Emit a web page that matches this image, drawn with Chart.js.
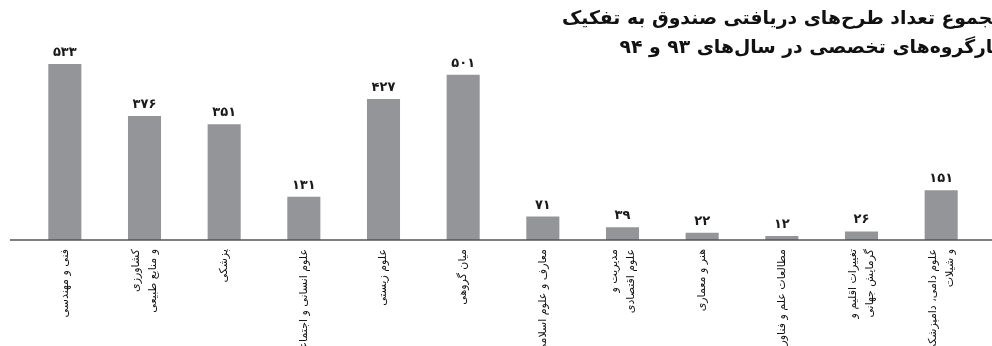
<!DOCTYPE html>
<html><head><meta charset="utf-8">
<script src="https://cdn.jsdelivr.net/npm/chart.js@4"></script>
<style>html,body{margin:0;padding:0;background:#fff;overflow:hidden}
#wrap{width:992px;height:346px;position:relative}</style>
</head><body><div id="wrap"><canvas id="c" width="992" height="346"></canvas></div>
<script>
const categories = [
  ['فنی و مهندسی'],
  ['کشاورزی', 'و منابع طبیعی'],
  ['پزشکی'],
  ['علوم انسانی و اجتماعی'],
  ['علوم زیستی'],
  ['میان گروهی'],
  ['معارف و علوم اسلامی'],
  ['مدیریت و', 'علوم اقتصادی'],
  ['هنر و معماری'],
  ['مطالعات علم و فناوری'],
  ['تغییرات اقلیم و', 'گرمایش جهانی'],
  ['علوم دامی، دامپزشکی', 'و شیلات']
];
const values = [533, 376, 351, 131, 427, 501, 71, 39, 22, 12, 26, 151];
const titleLines = [
  'مجموع تعداد طرح\u200cهای دریافتی صندوق به تفکیک',
  'کارگروه\u200cهای تخصصی در سال\u200cهای ۹۳ و ۹۴'
];
const yMin = 0;
const yMax = 600;

const FA = '۰۱۲۳۴۵۶۷۸۹';
const toFa = n => String(n).replace(/[0-9]/g, d => FA[d]);
const FONT = '"DejaVu Sans", sans-serif';

const decor = {
  id: 'decor',
  afterDatasetsDraw(chart) {
    const ctx = chart.ctx;
    const xs = chart.scales.x, ys = chart.scales.y;
    const y0 = ys.getPixelForValue(0);
    ctx.save();
    // baseline
    ctx.strokeStyle = '#555';
    ctx.lineWidth = 1.5;
    ctx.beginPath();
    ctx.moveTo(10, y0);
    ctx.lineTo(992, y0);
    ctx.stroke();
    // value labels
    ctx.fillStyle = '#1a1a1a';
    ctx.font = 'bold 13px ' + FONT;
    ctx.textAlign = 'center';
    ctx.textBaseline = 'alphabetic';
    const meta = chart.getDatasetMeta(0);
    meta.data.forEach((bar, i) => {
      ctx.fillText(toFa(values[i]), bar.x, bar.y - 8);
    });
    // category labels
    ctx.fillStyle = '#111';
    ctx.font = '11px ' + FONT;
    ctx.direction = 'rtl';
    ctx.textAlign = 'right';
    ctx.textBaseline = 'middle';
    const lh = 17;
    categories.forEach((lines, i) => {
      const cx = xs.getPixelForTick(i);
      const n = lines.length;
      lines.forEach((ln, j) => {
        const lx = cx + (j - (n - 1) / 2) * lh;
        ctx.save();
        ctx.translate(lx, y0 + 9);
        ctx.rotate(-Math.PI / 2);
        ctx.fillText(ln, 0, 0);
        ctx.restore();
      });
    });
    // title: sized so line 1 spans from x=562 to just past the right edge
    ctx.fillStyle = '#111';
    ctx.textAlign = 'right';
    ctx.textBaseline = 'alphabetic';
    ctx.font = 'bold 20px ' + FONT;
    const w0 = ctx.measureText(titleLines[0]).width;
    const size = Math.min(24, 20 * 442 / w0);
    ctx.font = 'bold ' + size.toFixed(2) + 'px ' + FONT;
    const w1 = ctx.measureText(titleLines[0]).width;
    const R = 562 + w1;
    ctx.fillText(titleLines[0], R, 24);
    ctx.fillText(titleLines[1], R, 53);
    ctx.restore();
  }
};

new Chart(document.getElementById('c'), {
  type: 'bar',
  data: {
    labels: categories,
    datasets: [{
      data: values,
      backgroundColor: '#949598',
      borderWidth: 0,
      barPercentage: 0.415,
      categoryPercentage: 1
    }]
  },
  options: {
    responsive: false,
    animation: false,
    layout: { padding: { top: 42, left: 25, right: 11, bottom: 0 } },
    plugins: { legend: { display: false }, tooltip: { enabled: false }, title: { display: false } },
    scales: {
      x: {
        grid: { display: false },
        border: { display: false },
        ticks: { display: false },
        afterFit: s => { s.height = 106; }
      },
      y: { display: false, min: yMin, max: yMax }
    }
  },
  plugins: [decor]
});
</script>
</body></html>
